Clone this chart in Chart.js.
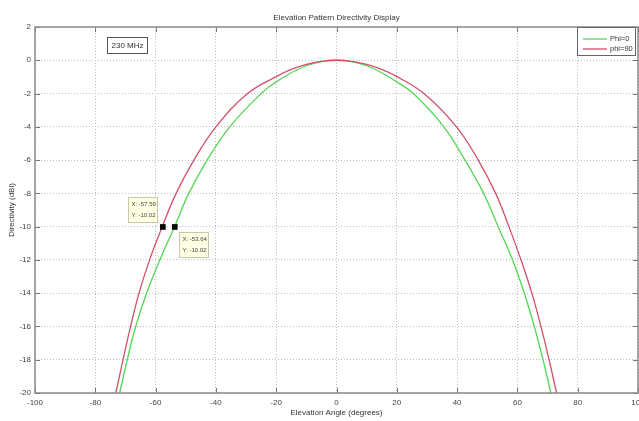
<!DOCTYPE html>
<html>
<head>
<meta charset="utf-8">
<script src="https://cdn.jsdelivr.net/npm/chart.js@4/dist/chart.umd.min.js"></script>
<style>
  html, body { margin: 0; padding: 0; background: #fff; }
  #wrap { width: 639px; height: 421px; position: relative; }
</style>
</head>
<body>
<div id="wrap"><canvas id="c" width="639" height="421"></canvas></div>
<script>
// ---- Data ----
const chartTitle = "Elevation Pattern Directivity Display";
const xAxisTitle = "Elevation Angle (degrees)";
const yAxisTitle = "Directivity (dBi)";
const freqLabel = "230 MHz";
const seriesNames = ["Phi=0", "phi=90"];

const phi0Angle = [-71.9, -69.4, -66.6, -63.0, -58.6, -53.7, -49.0, -42.9, -35.4, -25.0, -20, -15, -10, -5, 0, 5, 10, 15, 20, 25.5, 35.6, 42.6, 48.8, 53.6, 58.4, 62.3, 65.6, 68.5, 71.1];
const phi0Dir   = [-20, -18, -16, -14, -12, -10, -8, -6, -4, -2, -1.3, -0.75, -0.33, -0.08, 0, -0.08, -0.33, -0.75, -1.3, -2, -4, -6, -8, -10, -12, -14, -16, -18, -20];

const phi90Angle = [-73.2, -70.8, -68.3, -65.5, -62.0, -57.8, -53.2, -47.3, -40.0, -29.5, -20, -15, -10, -5, 0, 5, 10, 15, 20, 29.0, 39.8, 47.0, 52.8, 57.2, 61.2, 64.8, 67.8, 70.5, 73.0];
const phi90Dir   = [-20, -18, -16, -14, -12, -10, -8, -6, -4, -2, -0.98, -0.55, -0.25, -0.06, 0, -0.06, -0.25, -0.55, -0.98, -2, -4, -6, -8, -10, -12, -14, -16, -18, -20];

const markerX = [-57.59, -53.64];
const markerY = [-10.02, -10.02];

const xTicks = [-100, -80, -60, -40, -20, 0, 20, 40, 60, 80, 100];
const yTicks = [2, 0, -2, -4, -6, -8, -10, -12, -14, -16, -18, -20];

// ---- Build ----
const toPts = (xs, ys) => xs.map((x, i) => ({ x: x, y: ys[i] }));
const FONT = "'Liberation Sans', Arial, sans-serif";
const GREEN = "#55d655";
const RED = "#d4506a";

const decor = {
  id: "decor",
  afterDraw(chart) {
    const ctx = chart.ctx;
    const a = chart.chartArea;
    const xs = chart.scales.x, ys = chart.scales.y;
    ctx.save();
    // inside tick marks
    ctx.strokeStyle = "#777";
    ctx.lineWidth = 1;
    xTicks.forEach(v => {
      const p = Math.round(xs.getPixelForValue(v)) + 0.5;
      ctx.beginPath();
      ctx.moveTo(p, a.bottom); ctx.lineTo(p, a.bottom - 5);
      ctx.moveTo(p, a.top); ctx.lineTo(p, a.top + 5);
      ctx.stroke();
    });
    yTicks.forEach(v => {
      const p = Math.round(ys.getPixelForValue(v)) + 0.5;
      ctx.beginPath();
      ctx.moveTo(a.left, p); ctx.lineTo(a.left + 5, p);
      ctx.moveTo(a.right, p); ctx.lineTo(a.right - 5, p);
      ctx.stroke();
    });
    // axis box
    ctx.strokeStyle = "#8a8a8a";
    ctx.lineWidth = 1.5;
    ctx.strokeRect(a.left, a.top, a.right - a.left, a.bottom - a.top);

    // title
    ctx.fillStyle = "#333";
    ctx.font = "8px " + FONT;
    ctx.textAlign = "center";
    ctx.textBaseline = "middle";
    ctx.fillText(chartTitle, xs.getPixelForValue(0), 18);
    // x axis title
    ctx.fillText(xAxisTitle, xs.getPixelForValue(0), 413);
    // y axis title
    ctx.save();
    ctx.translate(12, ys.getPixelForValue(-9));
    ctx.rotate(-Math.PI / 2);
    ctx.fillText(yAxisTitle, 0, 0);
    ctx.restore();

    // frequency box
    ctx.fillStyle = "#fff";
    ctx.fillRect(107.5, 37.5, 40, 16);
    ctx.strokeStyle = "#555";
    ctx.lineWidth = 1;
    ctx.strokeRect(107.5, 37.5, 40, 16);
    ctx.fillStyle = "#333";
    ctx.font = "8px " + FONT;
    ctx.fillText(freqLabel, 127.5, 45.5);

    // legend
    const lx = 577.5, ly = 27.5, lw = 58, lh = 28;
    ctx.fillStyle = "#fff";
    ctx.fillRect(lx, ly, lw, lh);
    ctx.strokeStyle = "#666";
    ctx.lineWidth = 1;
    ctx.strokeRect(lx, ly, lw, lh);
    ctx.lineWidth = 1.3;
    ctx.strokeStyle = GREEN;
    ctx.beginPath(); ctx.moveTo(583, 39); ctx.lineTo(607, 39); ctx.stroke();
    ctx.strokeStyle = RED;
    ctx.beginPath(); ctx.moveTo(583, 49); ctx.lineTo(607, 49); ctx.stroke();
    ctx.fillStyle = "#333";
    ctx.textAlign = "left";
    ctx.font = "7.5px " + FONT;
    ctx.fillText(seriesNames[0], 610, 39);
    ctx.fillText(seriesNames[1], 610, 49);

    // datatips
    const tip = (x, y, w, h, l1, l2) => {
      ctx.fillStyle = "#ffffe4";
      ctx.fillRect(x, y, w, h);
      ctx.strokeStyle = "#c8c8a8";
      ctx.lineWidth = 1;
      ctx.strokeRect(x, y, w, h);
      ctx.fillStyle = "#444";
      ctx.font = "6px " + FONT;
      ctx.textAlign = "left";
      ctx.fillText(l1, x + 3, y + 7);
      ctx.fillText(l2, x + 3, y + 18);
    };
    const p1x = xs.getPixelForValue(markerX[0]), p1y = ys.getPixelForValue(markerY[0]);
    const p2x = xs.getPixelForValue(markerX[1]), p2y = ys.getPixelForValue(markerY[1]);
    tip(Math.round(p1x) - 34.5, Math.round(p1y) - 29.5, 29, 25, "X: " + markerX[0].toFixed(2), "Y: " + markerY[0].toFixed(2));
    tip(Math.round(p2x) + 4.5, Math.round(p2y) + 5.5, 29, 25, "X: " + markerX[1].toFixed(2), "Y: " + markerY[1].toFixed(2));
    ctx.restore();
  }
};

new Chart(document.getElementById("c"), {
  type: "scatter",
  plugins: [decor],
  data: {
    datasets: [
      {
        label: seriesNames[0],
        data: toPts(phi0Angle, phi0Dir),
        showLine: true,
        borderColor: GREEN,
        borderWidth: 1.3,
        pointRadius: 0,
        tension: 0.4,
        order: 2
      },
      {
        label: seriesNames[1],
        data: toPts(phi90Angle, phi90Dir),
        showLine: true,
        borderColor: RED,
        borderWidth: 1.3,
        pointRadius: 0,
        tension: 0.4,
        order: 1
      },
      {
        label: "markers",
        data: toPts(markerX, markerY),
        showLine: false,
        pointStyle: "rect",
        pointRadius: 4,
        backgroundColor: "#000",
        borderColor: "#000",
        borderWidth: 0,
        order: 0
      }
    ]
  },
  options: {
    responsive: false,
    animation: false,
    devicePixelRatio: 1,
    layout: { autoPadding: false, padding: { top: 27, right: 1, left: 0, bottom: 0 } },
    plugins: {
      legend: { display: false },
      tooltip: { enabled: false },
      title: { display: false }
    },
    scales: {
      x: {
        type: "linear",
        min: -100, max: 100,
        afterBuildTicks: s => { s.ticks = xTicks.map(v => ({ value: v })); },
        afterFit: s => { s.height = 28; s.paddingLeft = 0; s.paddingRight = 0; },
        grid: {
          color: "#bdbdbd",
          lineWidth: 1,
          drawTicks: false
        },
        border: { display: false, dash: [1, 2] },
        ticks: {
          color: "#444",
          font: { family: FONT, size: 8 },
          padding: 5,
          maxRotation: 0,
          autoSkip: false
        }
      },
      y: {
        type: "linear",
        min: -20, max: 2,
        afterBuildTicks: s => { s.ticks = yTicks.map(v => ({ value: v })); },
        afterFit: s => { s.width = 35; s.paddingTop = 0; s.paddingBottom = 0; },
        grid: {
          color: "#bdbdbd",
          lineWidth: 1,
          drawTicks: false
        },
        border: { display: false, dash: [1, 2] },
        ticks: {
          color: "#444",
          font: { family: FONT, size: 8 },
          padding: 4,
          autoSkip: false
        }
      }
    }
  }
});
</script>
</body>
</html>
